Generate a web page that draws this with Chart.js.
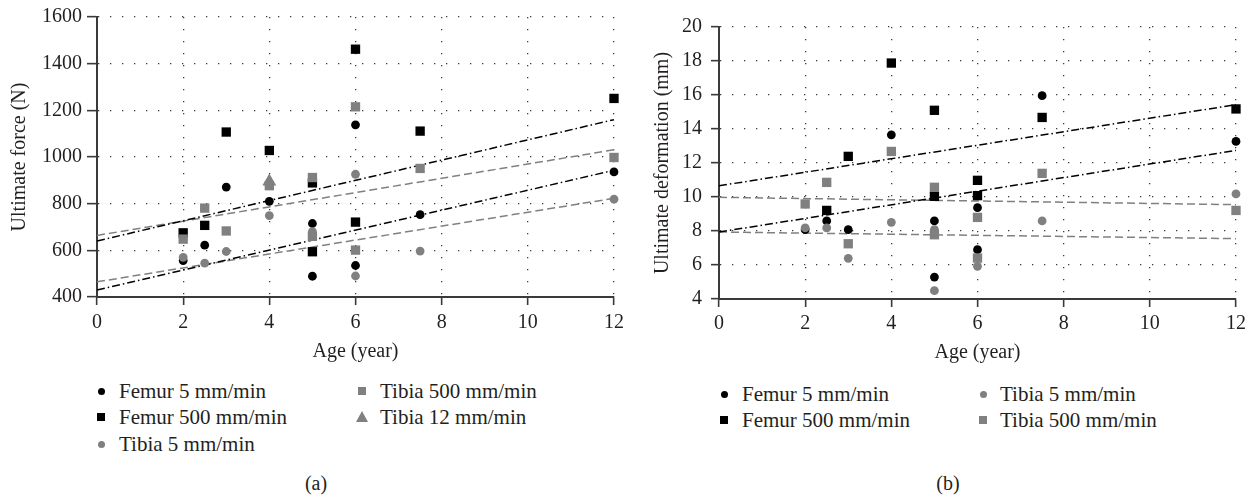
<!DOCTYPE html>
<html>
<head>
<meta charset="utf-8">
<script src="https://cdn.jsdelivr.net/npm/chart.js@4.4.1/dist/chart.umd.min.js"></script>
<style>
  body { margin: 0; width: 1256px; height: 498px; background: #fff; position: relative; overflow: hidden;
         font-family: "Liberation Serif", "Times New Roman", serif; color: #231f20; }
  .panel { position: absolute; top: 0; height: 370px; }
  #panelA { left: 0; width: 630px; }
  #panelB { left: 630px; width: 626px; }
  .item { position: absolute; height: 26px; line-height: 26px; font-size: 21px; white-space: nowrap; }
  .mk { position: absolute; display: block; }
  .caption { position: absolute; font-size: 20px; transform: translate(-50%, -50%); }
</style>
</head>
<body>
<div class="panel" id="panelA"><canvas id="forceChart"></canvas></div>
<div class="panel" id="panelB"><canvas id="deformChart"></canvas></div>
<div id="legends"></div>
<div class="caption" style="left:316px;top:483px">(a)</div>
<div class="caption" style="left:948px;top:483px">(b)</div>
<script>
// x axis ticks (both panels)
const ageTicks = [0, 2, 4, 6, 8, 10, 12];
const trendAge = [0, 12];

// (a) ultimate force, N
const forceTicks = [400, 600, 800, 1000, 1200, 1400, 1600];
const forceSeries = ['Femur 5 mm/min', 'Femur 500 mm/min', 'Tibia 5 mm/min', 'Tibia 500 mm/min', 'Tibia 12 mm/min'];

const forceFemur5Age = [2, 2.5, 3, 4, 5, 5, 6, 6, 7.5, 12];
const forceFemur5 = [556, 622, 871, 810, 715, 489, 1138, 535, 753, 936];
const forceFemur500Age = [2, 2.5, 3, 4, 5, 5, 6, 6, 7.5, 12];
const forceFemur500 = [675, 707, 1107, 1028, 889, 594, 1462, 721, 1111, 1251];
const forceTibia5Age = [2, 2.5, 3, 4, 5, 6, 6, 7.5, 12];
const forceTibia5 = [570, 545, 595, 749, 680, 926, 490, 597, 819];
const forceTibia500Age = [2, 2.5, 3, 4, 5, 5, 6, 6, 7.5, 12];
const forceTibia500 = [648, 781, 683, 877, 912, 660, 1215, 601, 951, 998];
const forceTibia12Age = [4];
const forceTibia12 = [895];

const forceFemur5Trend = [430, 943];
const forceFemur500Trend = [640, 1160];
const forceTibia5Trend = [465, 823];
const forceTibia500Trend = [664, 1031];

// (b) ultimate deformation, mm
const deformTicks = [4, 6, 8, 10, 12, 14, 16, 18, 20];
const deformSeries = ['Femur 5 mm/min', 'Femur 500 mm/min', 'Tibia 5 mm/min', 'Tibia 500 mm/min'];

const deformFemur5Age = [2, 2.5, 3, 4, 5, 5, 6, 6, 7.5, 12];
const deformFemur5 = [8.08, 8.59, 8.08, 13.66, 8.59, 5.29, 9.37, 6.9, 15.96, 13.27];
const deformFemur500Age = [2.5, 3, 4, 5, 5, 6, 6, 7.5, 12];
const deformFemur500 = [9.21, 12.39, 17.88, 15.1, 10.04, 10.98, 10.08, 14.68, 15.18];
const deformTibia5Age = [2, 2.5, 3, 4, 5, 5, 6, 7.5, 12];
const deformTibia5 = [8.18, 8.18, 6.39, 8.51, 8.08, 4.49, 5.92, 8.59, 10.18];
const deformTibia500Age = [2, 2.5, 3, 4, 5, 5, 6, 6, 7.5, 12];
const deformTibia500 = [9.59, 10.86, 7.25, 12.68, 10.57, 7.78, 8.8, 6.41, 11.39, 9.21];

const deformFemur5Trend = [7.94, 12.74];
const deformFemur500Trend = [10.66, 15.43];
const deformTibia5Trend = [7.94, 7.55];
const deformTibia500Trend = [9.98, 9.55];

const BLACK = '#000000';
const GRAY = '#808080';
const TEXT = '#231f20';
const FONT = "'Liberation Serif', 'Times New Roman', serif";

Chart.defaults.font.family = FONT;
Chart.defaults.color = TEXT;

const pts = (xs, ys) => xs.map((x, i) => ({ x: x, y: ys[i] }));

function markers(label, xs, ys, color, style) {
    const r = style === 'circle' ? 4.4 : style === 'rect' ? 6.6 : 8;
    return {
        label: label, data: pts(xs, ys), pointStyle: style, pointRadius: r, pointHoverRadius: r,
        pointBackgroundColor: color, pointBorderWidth: 0, showLine: false, clip: false
    };
}

function trend(ys, color, dash) {
    return {
        data: pts(trendAge, ys), showLine: true, pointRadius: 0, borderColor: color,
        borderWidth: 1.5, borderDash: dash, fill: false, clip: false
    };
}

const DASHDOT = [8, 3, 1.5, 3];
const DASHED = [8, 4];

function makeOptions(o) {
    return {
        responsive: true,
        maintainAspectRatio: false,
        animation: false,
        events: [],
        layout: { padding: { top: o.top, right: o.right, left: 0, bottom: 0 } },
        plugins: { legend: { display: false }, tooltip: { enabled: false } },
        scales: {
            x: {
                type: 'linear', min: 0, max: 12,
                afterBuildTicks: (s) => { s.ticks = ageTicks.map(v => ({ value: v })); },
                afterFit: (s) => { s.height = o.xHeight; },
                ticks: { font: { size: 20 }, padding: o.xPad, color: TEXT, maxRotation: 0 },
                grid: { color: '#3a3a3a', lineWidth: 1.3, tickLength: 8, tickColor: '#3a3a3a',
                        tickWidth: 1.6, tickBorderDash: [] },
                border: { color: '#3a3a3a', width: 2, dash: [1.3, 10.7] },
                title: { display: true, text: 'Age (year)', font: { size: 20 }, color: TEXT,
                         padding: { top: 0, bottom: o.xTitlePad } }
            },
            y: {
                type: 'linear', min: o.yTicks[0], max: o.yTicks[o.yTicks.length - 1],
                afterBuildTicks: (s) => { s.ticks = o.yTicks.map(v => ({ value: v })); },
                afterFit: (s) => { s.width = o.yWidth; },
                ticks: { font: { size: 20 }, padding: o.yPad, color: TEXT, callback: (v) => String(v) },
                grid: { color: '#3a3a3a', lineWidth: 1.3, tickLength: o.yTick, tickColor: '#3a3a3a',
                        tickWidth: 1.6, tickBorderDash: [] },
                border: { color: '#3a3a3a', width: 2, dash: [1.3, 10.7] },
                title: { display: true, text: o.yTitle, font: { size: 20 }, color: TEXT,
                         padding: { top: o.yTitlePad, bottom: 0 } }
            }
        }
    };
}

new Chart(document.getElementById('forceChart'), {
    type: 'scatter',
    data: {
        datasets: [
            markers(forceSeries[4], forceTibia12Age, forceTibia12, GRAY, 'triangle'),
            markers(forceSeries[2], forceTibia5Age, forceTibia5, GRAY, 'circle'),
            markers(forceSeries[3], forceTibia500Age, forceTibia500, GRAY, 'rect'),
            markers(forceSeries[0], forceFemur5Age, forceFemur5, BLACK, 'circle'),
            markers(forceSeries[1], forceFemur500Age, forceFemur500, BLACK, 'rect'),
            trend(forceFemur5Trend, BLACK, DASHDOT),
            trend(forceFemur500Trend, BLACK, DASHDOT),
            trend(forceTibia5Trend, GRAY, DASHED),
            trend(forceTibia500Trend, GRAY, DASHED)
        ]
    },
    options: makeOptions({
        top: 12.5, right: 16, xHeight: 73, yWidth: 97, xPad: 6, yPad: 5, yTick: 10,
        xTitlePad: 6, yTitlePad: 8, yTicks: forceTicks, yTitle: 'Ultimate force (N)'
    })
});

new Chart(document.getElementById('deformChart'), {
    type: 'scatter',
    data: {
        datasets: [
            markers(deformSeries[2], deformTibia5Age, deformTibia5, GRAY, 'circle'),
            markers(deformSeries[3], deformTibia500Age, deformTibia500, GRAY, 'rect'),
            markers(deformSeries[0], deformFemur5Age, deformFemur5, BLACK, 'circle'),
            markers(deformSeries[1], deformFemur500Age, deformFemur500, BLACK, 'rect'),
            trend(deformFemur5Trend, BLACK, DASHDOT),
            trend(deformFemur500Trend, BLACK, DASHDOT),
            trend(deformTibia5Trend, GRAY, DASHED),
            trend(deformTibia500Trend, GRAY, DASHED)
        ]
    },
    options: makeOptions({
        top: 27, right: 20, xHeight: 71, yWidth: 89, xPad: 5, yPad: 9, yTick: 8,
        xTitlePad: 5, yTitlePad: 21, yTicks: deformTicks, yTitle: 'Ultimate deformation (mm)'
    })
});

// legends, column-major like the original figure
function legendItem(label, color, shape, mx, tx, cy) {
    const el = document.createElement('div');
    el.className = 'item';
    el.style.left = tx + 'px';
    el.style.top = (cy - 13) + 'px';
    el.textContent = label;
    const m = document.createElement('span');
    m.className = 'mk';
    if (shape === 'circle') {
        m.style.cssText = 'width:7px;height:7px;border-radius:50%;background:' + color;
        m.style.left = (mx - 3.5) + 'px'; m.style.top = (cy - 3.5) + 'px';
    } else if (shape === 'rect') {
        m.style.cssText = 'width:8px;height:8px;background:' + color;
        m.style.left = (mx - 4) + 'px'; m.style.top = (cy - 4) + 'px';
    } else {
        m.style.cssText = 'width:0;height:0;border-left:6px solid transparent;border-right:6px solid transparent;border-bottom:11px solid ' + color;
        m.style.left = (mx - 6) + 'px'; m.style.top = (cy - 6) + 'px';
    }
    m.style.position = 'absolute';
    const box = document.getElementById('legends');
    box.appendChild(m);
    box.appendChild(el);
}

legendItem(forceSeries[0], BLACK, 'circle', 101, 119, 391);
legendItem(forceSeries[1], BLACK, 'rect', 101, 119, 417);
legendItem(forceSeries[2], GRAY, 'circle', 101, 119, 444);
legendItem(forceSeries[3], GRAY, 'rect', 362, 380, 391);
legendItem(forceSeries[4], GRAY, 'triangle', 362, 380, 417);

legendItem(deformSeries[0], BLACK, 'circle', 724, 742, 394);
legendItem(deformSeries[1], BLACK, 'rect', 724, 742, 420);
legendItem(deformSeries[2], GRAY, 'circle', 983, 1000, 394);
legendItem(deformSeries[3], GRAY, 'rect', 983, 1000, 420);
</script>
</body>
</html>
